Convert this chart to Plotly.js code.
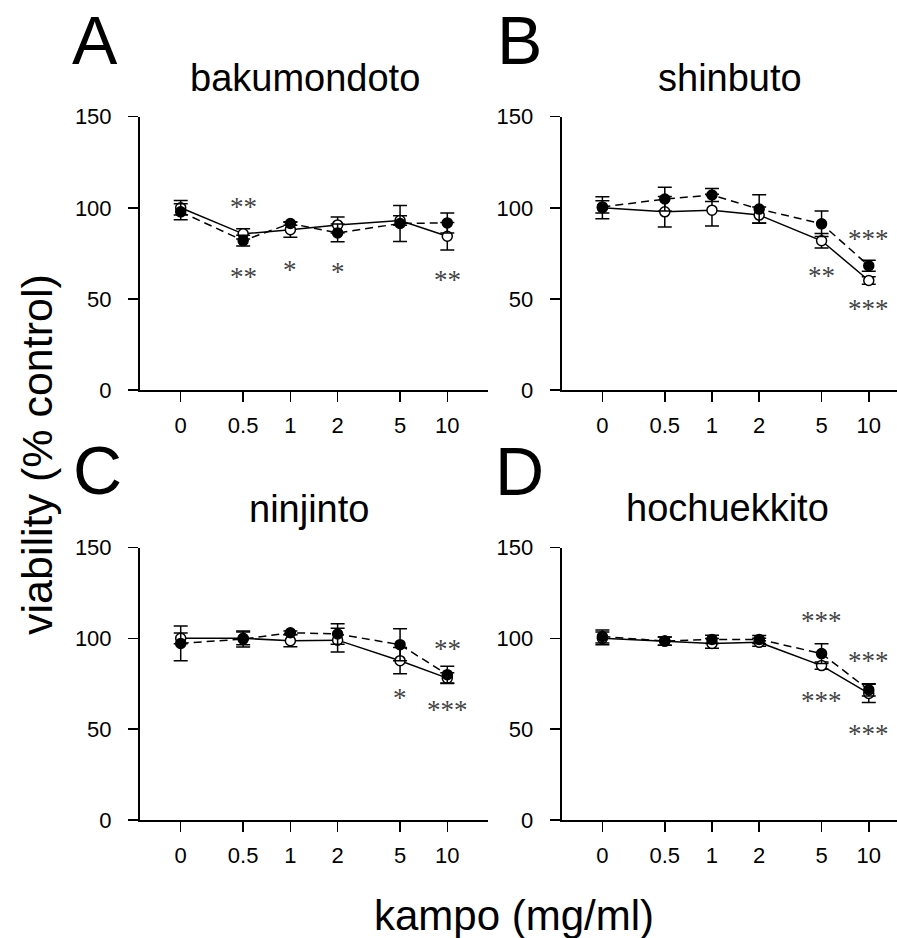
<!DOCTYPE html>
<html>
<head>
<meta charset="utf-8">
<script src="https://cdn.plot.ly/plotly-3.0.1.min.js"></script>
<style>html,body{margin:0;padding:0;background:#fff;}#chart{width:897px;height:938px;}</style>
</head>
<body>
<div id="chart"></div>
<script>
// ---- data ----
const doses = [0, 0.5, 1, 2, 5, 10];
const doseLabels = ['0', '0.5', '1', '2', '5', '10'];
const panelLetters = ['A', 'B', 'C', 'D'];
const panelTitles = ['bakumondoto', 'shinbuto', 'ninjinto', 'hochuekkito'];

// open circles, solid line
const openA = [100, 85.7, 88, 90.6, 93, 84.4];
const openErrA = [4, 2.8, 4.1, 4.4, 2.6, 7.5];
const openB = [100, 97.8, 98.7, 96, 81.9, 60.1];
const openErrB = [6, 8.4, 8.7, 4.4, 4, 2];
const openC = [100, 100, 98.7, 99, 87.7, 78.1];
const openErrC = [3, 3.5, 3.3, 6.5, 7.2, 3];
const openD = [100, 98.5, 97.2, 97.8, 85, 69.7];
const openErrD = [3.5, 2.3, 2.7, 2.2, 2, 5];

// filled circles, dashed line
const fillA = [97.8, 82, 91.4, 86.2, 91.4, 91.7];
const fillErrA = [4.4, 3, 1, 4.9, 9.9, 5.5];
const fillB = [100.5, 104.8, 107, 99.3, 91.2, 68.2];
const fillErrB = [3.4, 6.5, 3.6, 7.8, 7, 3];
const fillC = [97.2, 99.6, 103.1, 102.4, 96.5, 80];
const fillErrC = [9.6, 4.4, 1, 5.6, 8.8, 4.6];
const fillD = [101, 98.5, 99.4, 99.4, 91.6, 71.6];
const fillErrD = [3.6, 2.3, 2.3, 2.2, 5.4, 3.4];

// significance marks: dose, value level, text
const sigDoseA = [0.5, 0.5, 1, 2, 10];
const sigLevelA = [102.4, 64.2, 67.9, 67, 62.4];
const sigTextA = ['**', '**', '*', '*', '**'];
const sigDoseB = [10, 5, 10];
const sigLevelB = [85, 64.9, 46.6];
const sigTextB = ['***', '**', '***'];
const sigDoseC = [10, 5, 10];
const sigLevelC = [96.5, 69.3, 62.5];
const sigTextC = ['**', '*', '***'];
const sigDoseD = [5, 10, 5, 10];
const sigLevelD = [111.9, 89.9, 67.9, 49.5];
const sigTextD = ['***', '***', '***', '***'];

// ---- build ----
const W = 897, H = 938;
const SANS = 'Liberation Sans, Arial, Helvetica, sans-serif';
const SERIF = 'Liberation Serif, Times New Roman, serif';
// zero dose drawn at 0.2 on the log dose axis
const pos = d => (d === 0 ? 0.2 : d);
const xs = doses.map(pos);

const openY = [openA, openB, openC, openD];
const openE = [openErrA, openErrB, openErrC, openErrD];
const fillY = [fillA, fillB, fillC, fillD];
const fillE = [fillErrA, fillErrB, fillErrC, fillErrD];
const sigDose = [sigDoseA, sigDoseB, sigDoseC, sigDoseD];
const sigLevel = [sigLevelA, sigLevelB, sigLevelC, sigLevelD];
const sigText = [sigTextA, sigTextB, sigTextC, sigTextD];

const traces = [];
for (let i = 0; i < 4; i++) {
  const sfx = i === 0 ? '' : String(i + 1);
  traces.push({
    x: xs, y: openY[i], xaxis: 'x' + sfx, yaxis: 'y' + sfx,
    type: 'scatter', mode: 'lines+markers', cliponaxis: false,
    line: {color: '#000', width: 1.5},
    marker: {symbol: 'circle', size: 10, color: '#fff', line: {color: '#000', width: 1.5}},
    error_y: {type: 'data', array: openE[i], visible: true, color: '#000', thickness: 1.5, width: 7}
  });
  traces.push({
    x: xs, y: fillY[i], xaxis: 'x' + sfx, yaxis: 'y' + sfx,
    type: 'scatter', mode: 'lines+markers', cliponaxis: false,
    line: {color: '#000', width: 1.5, dash: '8px,5px'},
    marker: {symbol: 'circle', size: 10, color: '#000', line: {color: '#000', width: 1.5}},
    error_y: {type: 'data', array: fillE[i], visible: true, color: '#000', thickness: 1.5, width: 7}
  });
}

const px = v => v / W;
const py = v => 1 - v / H;

const xDomLeft = [px(140), px(488)];
const xDomRight = [px(561.7), 1];
const yDomTop = [py(390), py(116.7)];
const yDomBot = [py(820), py(547.5)];
const rangeLeft = [-0.9584, 1.2594];
const rangeRight = [-0.9584, 1.180];

function xax(dom, rng) {
  return {
    domain: dom, type: 'log', range: rng,
    tickmode: 'array', tickvals: xs, ticktext: doseLabels,
    showline: true, linecolor: '#000', linewidth: 2,
    ticks: 'outside', ticklen: 10, tickwidth: 1.5, tickcolor: '#000',
    showgrid: false, zeroline: false, ticklabelstandoff: 5,
    tickfont: {family: SANS, size: 22, color: '#000'}, fixedrange: true
  };
}
function yax(dom, anchor) {
  return {
    domain: dom, range: [0, 150], anchor: anchor,
    tickmode: 'array', tickvals: [0, 50, 100, 150],
    showline: true, linecolor: '#000', linewidth: 2,
    ticks: 'outside', ticklen: 10, tickwidth: 1.5, tickcolor: '#000',
    showgrid: false, zeroline: false, ticklabelstandoff: 12,
    tickfont: {family: SANS, size: 22, color: '#000'}, fixedrange: true
  };
}

const annotations = [];
const letterPos = [[95, 40], [519, 40], [97, 470], [519, 471]];
const titlePos = [[305, 78], [730, 78], [309, 509], [727.5, 508]];
for (let i = 0; i < 4; i++) {
  annotations.push({
    xref: 'paper', yref: 'paper', x: px(letterPos[i][0]), y: py(letterPos[i][1]),
    xanchor: 'center', yanchor: 'middle', showarrow: false, text: panelLetters[i],
    font: {family: SANS, size: 68, color: '#000'}
  });
  annotations.push({
    xref: 'paper', yref: 'paper', x: px(titlePos[i][0]), y: py(titlePos[i][1]),
    xanchor: 'center', yanchor: 'middle', showarrow: false, text: panelTitles[i],
    font: {family: SANS, size: 38, color: '#000'}
  });
  const sfx = i === 0 ? '' : String(i + 1);
  for (let k = 0; k < sigDose[i].length; k++) {
    annotations.push({
      xref: 'x' + sfx, yref: 'y' + sfx,
      x: Math.log10(pos(sigDose[i][k])), y: sigLevel[i][k],
      xanchor: 'center', yanchor: 'middle', showarrow: false, yshift: -4,
      text: sigText[i][k],
      font: {family: SERIF, size: 27, color: '#444'}
    });
  }
}
annotations.push({
  xref: 'paper', yref: 'paper', x: px(37), y: py(455), textangle: -90,
  xanchor: 'center', yanchor: 'middle', showarrow: false, text: 'viability (% control)',
  font: {family: SANS, size: 43, color: '#000'}
});
annotations.push({
  xref: 'paper', yref: 'paper', x: px(514), y: py(915),
  xanchor: 'center', yanchor: 'middle', showarrow: false, text: 'kampo (mg/ml)',
  font: {family: SANS, size: 42, color: '#000'}
});

const layout = {
  width: W, height: H, margin: {l: 0, r: 0, t: 0, b: 0},
  paper_bgcolor: '#fff', plot_bgcolor: 'rgba(0,0,0,0)',
  showlegend: false,
  xaxis: Object.assign(xax(xDomLeft, rangeLeft), {anchor: 'y'}),
  yaxis: yax(yDomTop, 'x'),
  xaxis2: Object.assign(xax(xDomRight, rangeRight), {anchor: 'y2'}),
  yaxis2: yax(yDomTop, 'x2'),
  xaxis3: Object.assign(xax(xDomLeft, rangeLeft), {anchor: 'y3'}),
  yaxis3: yax(yDomBot, 'x3'),
  xaxis4: Object.assign(xax(xDomRight, rangeRight), {anchor: 'y4'}),
  yaxis4: yax(yDomBot, 'x4'),
  annotations: annotations
};

Plotly.newPlot('chart', traces, layout, {displayModeBar: false, staticPlot: true});
</script>
</body>
</html>
